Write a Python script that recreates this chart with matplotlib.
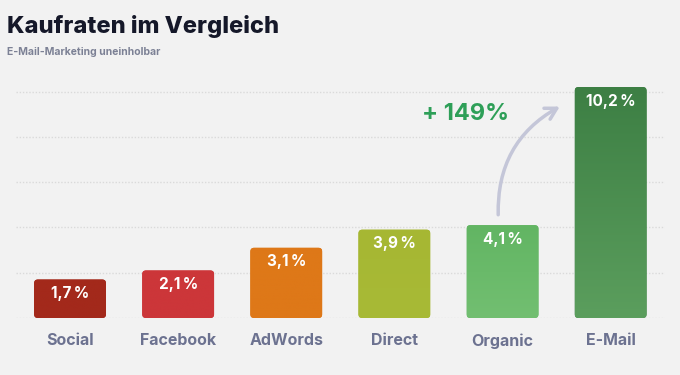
import numpy as np
import matplotlib
matplotlib.use("Agg")
import matplotlib.pyplot as plt
from matplotlib.patches import FancyBboxPatch, FancyArrowPatch
from matplotlib.colors import LinearSegmentedColormap

plt.rcParams['font.family'] = ['Inter', 'DejaVu Sans']

# Daten
kanaele = ['Social', 'Facebook', 'AdWords', 'Direct', 'Organic', 'E-Mail']
kaufraten = [1.7, 2.1, 3.1, 3.9, 4.1, 10.2]
labels = ['1,7\u2009%', '2,1\u2009%', '3,1\u2009%', '3,9\u2009%', '4,1\u2009%', '10,2\u2009%']
farben_oben = ['#a3291b', '#cc3639', '#de7818', '#a6b733', '#62b563', '#3d7f44']
farben_unten = ['#a3291b', '#cc3639', '#de7818', '#a8ba36', '#72bf71', '#5b9e5d']
zuwachs = '+ 149%'

bg = '#f2f2f2'
fig = plt.figure(figsize=(6.8, 3.75), dpi=100, facecolor=bg)
ax = fig.add_axes([0.0235, 0.152, 0.954, 0.64], facecolor=bg)

x = np.arange(len(kanaele))
bars = ax.bar(x, kaufraten, width=0.665, color='none')

# gepunktete Hilfslinien
for g in np.arange(0, 11, 2):
    ax.axhline(g, color='#dadada', lw=1, ls=(0, (1, 1.3)), zorder=0)

# abgerundete Balken mit Verlauf
asp = 108.2 / 22.6
for b, top, bot in zip(bars, farben_oben, farben_unten):
    bx, by, bw, bh = b.get_x(), b.get_y(), b.get_width(), b.get_height()
    p = FancyBboxPatch((bx, by), bw, bh, boxstyle='round,pad=0,rounding_size=0.035',
                       mutation_aspect=asp, facecolor=top, edgecolor='none', zorder=2)
    ax.add_patch(p)
    cmap = LinearSegmentedColormap.from_list('v', [bot, top])
    grad = np.linspace(0, 1, 100).reshape(-1, 1)
    im = ax.imshow(grad, cmap=cmap, extent=(bx, bx + bw, by, by + bh), origin='lower',
                   aspect='auto', zorder=2.5)
    im.set_clip_path(p)

ax.set_xlim(-0.5, 5.5)
ax.set_ylim(0, 10.6)

for xi, v, lab in zip(x, kaufraten, labels):
    ax.annotate(lab, (xi, v), xytext=(0, -14), textcoords='offset pixels',
                ha='center', va='center', color='white', fontsize=11,
                fontweight='bold', zorder=4)

ax.set_xticks(x, kanaele)
ax.tick_params(axis='x', length=0, pad=11, labelsize=11.5, labelcolor='#6c7290')
for t in ax.get_xticklabels():
    t.set_fontweight('bold')
ax.set_yticks([])
for s in ax.spines.values():
    s.set_visible(False)

# Pfeil Organic -> E-Mail
arr = FancyArrowPatch((3.96, 4.56), (4.53, 9.34), connectionstyle='arc3,rad=-0.3',
                      arrowstyle='->,head_length=8,head_width=4.5', color='#c4c6d8',
                      lw=2.5, zorder=3, shrinkA=0, shrinkB=0)
ax.add_patch(arr)
ax.text(3.66, 9.0, zuwachs, ha='center', va='center', color='#2e9f58',
        fontsize=17, fontweight='bold')

fig.text(0.010, 0.912, 'Kaufraten im Vergleich', fontsize=17, fontweight='heavy',
         color='#151829', ha='left', va='baseline')
fig.text(0.010, 0.853, 'E-Mail-Marketing uneinholbar', fontsize=7.5, fontweight='bold',
         color='#7c8195', ha='left', va='baseline')

fig.savefig('out.png', dpi=100, facecolor=bg)
